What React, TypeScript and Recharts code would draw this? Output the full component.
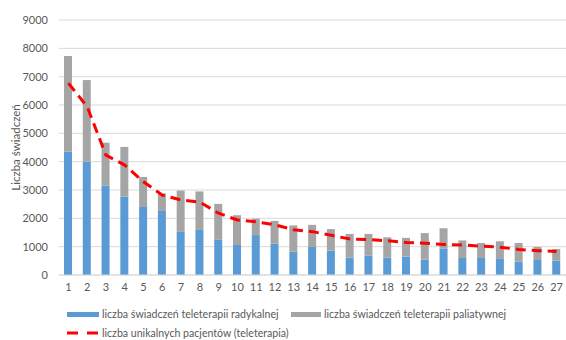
import React from 'react';
import { ComposedChart, Bar, Line, XAxis, YAxis, CartesianGrid } from 'recharts';

const categories = ['1', '2', '3', '4', '5', '6', '7', '8', '9', '10', '11', '12', '13', '14', '15', '16', '17', '18', '19', '20', '21', '22', '23', '24', '25', '26', '27'];
const radykalna = [4350, 4000, 3150, 2770, 2400, 2260, 1520, 1590, 1240, 1060, 1410, 1110, 820, 990, 860, 610, 690, 610, 650, 540, 940, 600, 600, 590, 470, 530, 510];
const paliatywna = [3380, 2880, 1520, 1750, 1060, 620, 1460, 1360, 1270, 1050, 580, 800, 930, 780, 760, 840, 760, 720, 660, 940, 710, 620, 530, 600, 660, 460, 410];
const pacjenci = [6770, 5940, 4230, 3880, 3290, 2820, 2650, 2570, 2180, 1940, 1880, 1770, 1600, 1530, 1400, 1270, 1250, 1210, 1150, 1120, 1080, 1060, 1020, 980, 900, 860, 830];
const yTicks = [0, 1000, 2000, 3000, 4000, 5000, 6000, 7000, 8000, 9000];

const data = categories.map((c, i) => ({
  name: c,
  radykalna: radykalna[i],
  paliatywna: paliatywna[i],
  pacjenci: pacjenci[i],
}));

const FONT = 'Lato, "Liberation Sans", sans-serif';
const TEXT = '#595959';
const BLUE = '#5B9BD5';
const GRAY = '#A5A5A5';
const RED = '#FF0000';

const legendText: React.CSSProperties = { fontFamily: FONT, fontSize: 10.6, color: TEXT, whiteSpace: 'nowrap', lineHeight: '14px' };
const row: React.CSSProperties = { position: 'absolute', display: 'flex', alignItems: 'center', height: 14 };

export default function App() {
  return (
    <div style={{ position: 'absolute', left: 0, top: 0, width: 566, height: 340, background: '#fff' }}>
      <ComposedChart width={566} height={340} data={data} margin={{ top: 20, right: 0, left: 0, bottom: 45 }}>
        <CartesianGrid vertical={false} stroke="#D9D9D9" />
        <XAxis
          dataKey="name"
          height={20}
          axisLine={{ stroke: '#D9D9D9' }}
          tickLine={false}
          tickSize={6}
          interval={0}
          tick={{ fill: TEXT, fontSize: 11, fontFamily: FONT }}
        />
        <YAxis
          width={59}
          domain={[0, 9000]}
          ticks={yTicks}
          interval={0}
          axisLine={false}
          tickLine={false}
          tickSize={0}
          tickMargin={11}
          tick={{ fill: TEXT, fontSize: 11, fontFamily: FONT }}
          label={{ value: 'Liczba świadczeń', angle: -90, position: 'insideLeft', textAnchor: 'middle', fill: TEXT, fontSize: 11.5, fontFamily: FONT, dx: 11 }}
        />
        <Bar dataKey="radykalna" stackId="a" fill={BLUE} barSize={8} isAnimationActive={false} />
        <Bar dataKey="paliatywna" stackId="a" fill={GRAY} barSize={8} isAnimationActive={false} />
        <Line
          type="linear"
          dataKey="pacjenci"
          stroke={RED}
          strokeWidth={3}
          strokeDasharray="10 6"
          dot={false}
          isAnimationActive={false}
        />
      </ComposedChart>
      <div style={{ ...row, left: 67, top: 307 }}>
        <div style={{ width: 32, height: 5, background: BLUE, marginRight: 3 }} />
        <span style={legendText}>liczba świadczeń teleterapii radykalnej</span>
      </div>
      <div style={{ ...row, left: 291, top: 307 }}>
        <div style={{ width: 30, height: 5, background: GRAY, marginRight: 3 }} />
        <span style={legendText}>liczba świadczeń teleterapii paliatywnej</span>
      </div>
      <div style={{ ...row, left: 67, top: 326 }}>
        <svg width={32} height={6} style={{ marginRight: 3 }}>
          <line x1={0} y1={3} x2={32} y2={3} stroke={RED} strokeWidth={3} strokeDasharray="11 9" />
        </svg>
        <span style={legendText}>liczba unikalnych pacjentów (teleterapia)</span>
      </div>
    </div>
  );
}
